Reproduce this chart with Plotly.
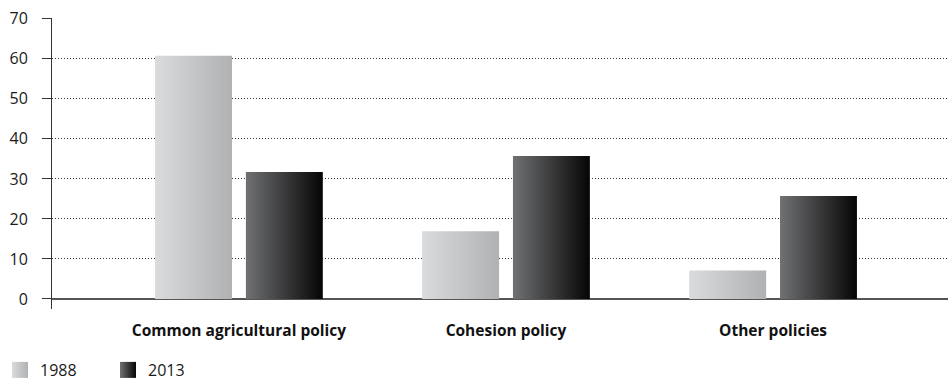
import plotly.graph_objects as go

categories = ["Common agricultural policy", "Cohesion policy", "Other policies"]
series_names = ["1988", "2013"]
values_1988 = [60.8, 16.9, 7.1]
values_2013 = [31.7, 35.7, 25.7]
y_ticks = [0, 10, 20, 30, 40, 50, 60, 70]

series_values = [values_1988, values_2013]
gradients = [
    [[0, "#dadbdd"], [1, "#b0b1b3"]],
    [[0, "#707173"], [1, "#050505"]],
]
offsets = [-0.17, 0.17]
bar_w = 0.288

fig = go.Figure()
for s, (name, vals) in enumerate(zip(series_names, series_values)):
    for i, v in enumerate(vals):
        cx = i + offsets[s]
        x0, x1 = cx - bar_w / 2, cx + bar_w / 2
        fig.add_trace(go.Scatter(
            x=[x0, x1, x1, x0, x0],
            y=[0, 0, v, v, 0],
            mode="lines",
            line=dict(width=0),
            fill="toself",
            fillgradient=dict(type="horizontal", colorscale=gradients[s]),
            fillcolor=gradients[s][1][1],
            name=name,
            showlegend=False,
            hoverinfo="skip",
        ))
    # legend entry
    fig.add_trace(go.Scatter(
        x=[None], y=[None], mode="markers", name=name,
        marker=dict(symbol="square", size=22, color=gradients[s][0][1],
                    gradient=dict(type="horizontal", color=gradients[s][1][1]),
                    line=dict(width=0)),
        showlegend=True, hoverinfo="skip",
    ))

fig.update_layout(
    width=950, height=387,
    margin=dict(l=52, r=2, t=18, b=78),
    paper_bgcolor="white", plot_bgcolor="white",
    font=dict(family="Open Sans", size=16, color="#1a1a1a"),
    showlegend=True,
    legend=dict(
        orientation="h", xref="container", x=0.0, xanchor="left",
        yref="container", y=-0.015, yanchor="bottom",
        font=dict(size=16, color="#1a1a1a"), itemwidth=30,
        itemsizing="trace", entrywidth=63, entrywidthmode="pixels",
        tracegroupgap=0, bgcolor="rgba(0,0,0,0)",
    ),
    xaxis=dict(
        range=[-0.70, 2.655],
        tickmode="array",
        tickvals=list(range(len(categories))),
        ticktext=["<b>%s</b>" % c for c in categories],
        ticks="", showgrid=False, zeroline=False, showline=False,
        ticklabelstandoff=10,
        tickfont=dict(size=15.5, color="#111111"),
        fixedrange=True,
    ),
    yaxis=dict(
        range=[-2.5, 70.2],
        tickmode="array", tickvals=y_ticks,
        ticks="outside", ticklen=9, tickcolor="#333333", tickwidth=1,
        showline=True, linecolor="#333333", linewidth=1,
        showgrid=True, gridcolor="#333333", gridwidth=1, griddash="1px,2px",
        zeroline=True, zerolinecolor="#555555", zerolinewidth=1.5,
        tickfont=dict(size=16, color="#1a1a1a"),
        ticklabelstandoff=11,
        fixedrange=True,
    ),
)

fig.write_html("out.html")
